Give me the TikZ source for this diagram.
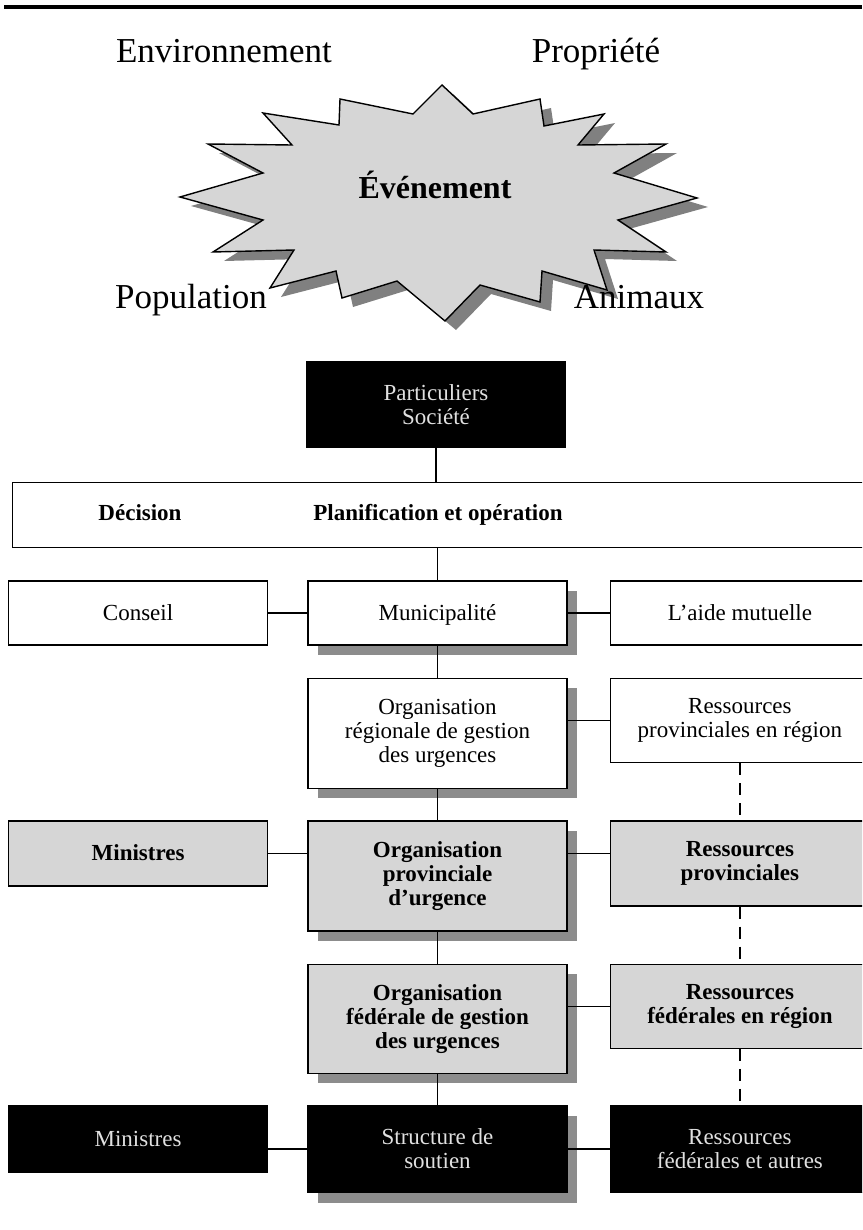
\documentclass[tikz,border=0pt]{standalone}
\usepackage{fontspec}
\setmainfont{Liberation Serif}
\usetikzlibrary{positioning,shadows}

\newcommand\boxfont{\fontsize{11.5}{12}\selectfont}
\newcommand\aroundfont{\fontsize{17.5}{19}\selectfont}

\begin{document}
\begin{tikzpicture}[x=0.5pt, y=-0.5pt,
  orgbox/.style={draw, line width=0.7pt, align=center, inner sep=2pt,
                 minimum width=129.5pt, font=\boxfont},
  plain/.style={orgbox, fill=white},
  grey/.style={orgbox, fill=black!16, font=\boxfont\bfseries},
  dark/.style={orgbox, fill=black, text=white!88!black},
  oneline/.style={text height=8.5pt, text depth=1.5pt},
  shade/.style={drop shadow={shadow xshift=5pt, shadow yshift=-5pt,
                             fill=black!45, opacity=1}},
  link/.style={line width=0.65pt},
  dlink/.style={link, dash pattern=on 6pt off 4pt},
  around/.style={font=\aroundfont, anchor=base},
  burst/.style={insert path={(442,85) -- (473,114) -- (540,99) -- (544,126)
     -- (604,114) -- (578,145) -- (666,144) -- (614,173) -- (697,198)
     -- (618,220) -- (666,252) -- (594,250) -- (607,290) -- (542,271)
     -- (540,302) -- (480,285) -- (445,321) -- (397,281) -- (342,298)
     -- (336,271) -- (270,288) -- (294,250) -- (213,252) -- (263,220)
     -- (180,197) -- (263,173) -- (208,144) -- (292,145) -- (263,113)
     -- (339,125) -- (340,99) -- (413,114) -- cycle}}
]
\useasboundingbox (0,0) rectangle (862,1230);
\clip (0,0) rectangle (862,1230);

\draw[line width=1.6pt] (4,7) -- (862,7);

% the event and what it hits
\fill[black!50, shift={(11,9)}, burst];
\draw[fill=black!16, line width=0.7pt, burst];
\node[font=\bfseries\fontsize{16}{18}\selectfont] (evt) at (435,185) {Événement};
\node[around] (env) at (224,63) {Environnement};
\node[around] (prop) at (596,63) {Propriété};
\node[around] (pop) at (191,308) {Population};
\node[around] (ani) at (639,308) {Animaux};

% response chain
\node[dark, minimum height=42.5pt] (part) at (436,404.5) {Particuliers\\Société};
\node[plain, anchor=north west, minimum width=444pt, minimum height=32.5pt]
  (dp) at (12,482) {};
\node[font=\boxfont\bfseries, anchor=base] (dec) at (140,520) {Décision};
\node[font=\boxfont\bfseries, anchor=base] (plan) at (438,520)
  {Planification et opération};

\node[plain, oneline, shade, minimum height=32pt] (mun) at (437.5,613)
  {Municipalité};
\node[plain, oneline, left=19.5pt of mun, minimum height=32pt] (cons) {Conseil};
\node[plain, oneline, right=21pt of mun, minimum height=32pt] (aide)
  {L’aide mutuelle};

\node[plain, shade, below=16pt of mun, minimum height=55pt] (orgu)
  {Organisation\\régionale de gestion\\des urgences};
\node[plain, right=21pt of orgu.north east, anchor=north west,
      minimum height=42pt] (rpr) {Ressources\\provinciales en région};

\node[grey, shade, below=15.5pt of orgu, minimum height=55pt] (opu)
  {Organisation\\provinciale\\d’urgence};
\node[grey, oneline, left=19.5pt of opu.north west, anchor=north east,
      minimum height=32.5pt] (minp) {Ministres};
\node[grey, right=21pt of opu.north east, anchor=north west,
      minimum height=42.5pt] (resp) {Ressources\\provinciales};

\node[grey, shade, below=16pt of opu, minimum height=54.5pt] (ofgu)
  {Organisation\\fédérale de gestion\\des urgences};
\node[grey, right=21pt of ofgu.north east, anchor=north west,
      minimum height=42pt] (rfr) {Ressources\\fédérales en région};

\node[dark, shade, below=15.5pt of ofgu, minimum height=43.5pt] (sds)
  {Structure de\\soutien};
\node[dark, oneline, left=19.5pt of sds.north west, anchor=north east,
      minimum height=33.5pt] (minf) {Ministres};
\node[dark, right=21pt of sds.north east, anchor=north west,
      minimum height=43.5pt] (rfa) {Ressources\\fédérales et autres};

% connectors
\draw[link] (part.south) -- (part.south |- dp.north);
\draw[link] (mun.north |- dp.south) -- (mun.north);
\draw[link] (cons) -- (mun);
\draw[link] (mun) -- (aide);
\draw[link] (mun) -- (orgu);
\draw[link] (orgu.east |- rpr) -- (rpr);
\draw[link] (orgu) -- (opu);
\draw[link] (minp) -- (minp -| opu.west);
\draw[link] (opu.east |- minp) -- (resp.west |- minp);
\draw[link] (opu) -- (ofgu);
\draw[link] (ofgu.east |- rfr) -- (rfr);
\draw[link] (ofgu) -- (sds);
\draw[link] (minf.east |- sds) -- (sds);
\draw[link] (sds) -- (rfa);
\draw[dlink] (rpr) -- (resp);
\draw[dlink] (resp) -- (rfr);
\draw[dlink] (rfr) -- (rfa);
\end{tikzpicture}
\end{document}
